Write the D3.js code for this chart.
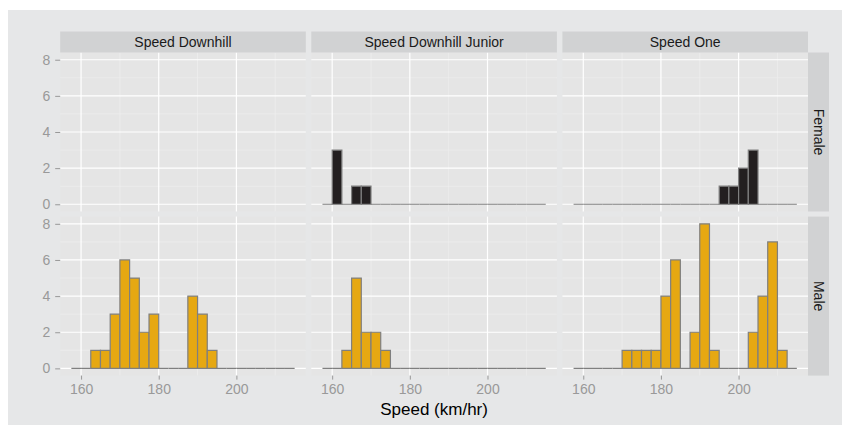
<!DOCTYPE html>
<html>
<head>
<meta charset="utf-8">
<script src="https://cdn.jsdelivr.net/npm/d3@7"></script>
<style>
  body { margin: 0; background: #fff; }
  text { font-family: "Liberation Sans", Arial, sans-serif; }
</style>
</head>
<body>
<div id="chart"></div>
<script>
// facets
var events = ["Speed Downhill", "Speed Downhill Junior", "Speed One"];
var genders = ["Female", "Male"];

// lower edge of each histogram bin (binwidth 2.5)
var binStarts = [157.5, 160, 162.5, 165, 167.5, 170, 172.5, 175, 177.5, 180,
  182.5, 185, 187.5, 190, 192.5, 195, 197.5, 200, 202.5, 205, 207.5, 210, 212.5];
var binWidth = 2.5;

// counts per bin, null = no data in that panel
var femaleDownhill = null;
var femaleJunior = [0, 3, 0, 1, 1, 0, 0, 0, 0, 0, 0, 0, 0, 0, 0, 0, 0, 0, 0, 0, 0, 0, 0];
var femaleOne = [0, 0, 0, 0, 0, 0, 0, 0, 0, 0, 0, 0, 0, 0, 0, 1, 1, 2, 3, 0, 0, 0, 0];
var maleDownhill = [0, 0, 1, 1, 3, 6, 5, 2, 3, 0, 0, 0, 4, 3, 1, 0, 0, 0, 0, 0, 0, 0, 0];
var maleJunior = [0, 0, 1, 5, 2, 2, 1, 0, 0, 0, 0, 0, 0, 0, 0, 0, 0, 0, 0, 0, 0, 0, 0];
var maleOne = [0, 0, 0, 0, 0, 1, 1, 1, 1, 4, 6, 0, 2, 8, 1, 0, 0, 0, 2, 4, 7, 1, 0];

var xTicks = [160, 180, 200];
var xMinor = [170, 190, 210];
var yTicks = [0, 2, 4, 6, 8];
var yMinor = [1, 3, 5, 7];

var counts = {
  Female: [femaleDownhill, femaleJunior, femaleOne],
  Male: [maleDownhill, maleJunior, maleOne]
};
var fills = { Female: "#231f20", Male: "#e6a812" };

var W = 842, H = 425;
var panelLeft = 60.2, panelW = 245.6, panelGap = 5.5;
var panelTop = [52.5, 216.6], panelH = 159;
var stripH = 21;

var svg = d3.select("#chart")
  .append("svg")
  .attr("width", W)
  .attr("height", H);

svg.append("rect")
  .attr("x", 8).attr("y", 10)
  .attr("width", W - 8).attr("height", H - 10)
  .attr("fill", "#e6e7e8");

var lo = binStarts[0], hi = binStarts[binStarts.length - 1] + binWidth;
var pad = (hi - lo) * 0.05;
var x = d3.scaleLinear()
  .domain([lo - pad, hi + pad])
  .range([0, panelW]);

var ymax = 8;
var y = d3.scaleLinear()
  .domain([-ymax * 0.05, ymax * 1.05])
  .range([panelH, 0]);

function barPath(d, i) {
  var x0 = x(binStarts[i]), x1 = x(binStarts[i] + binWidth);
  var y0 = y(0), y1 = y(d);
  return "M" + x0 + "," + y0 + "V" + y1 + "H" + x1 + "V" + y0 + "Z";
}

genders.forEach(function (g, r) {
  events.forEach(function (ev, c) {
    var px = panelLeft + c * (panelW + panelGap);
    var p = svg.append("g").attr("transform", "translate(" + px + "," + panelTop[r] + ")");

    p.append("rect")
      .attr("width", panelW).attr("height", panelH)
      .attr("fill", "#e5e5e5");

    // minor grid
    p.selectAll(".vmin").data(xMinor).enter().append("line")
      .attr("x1", x).attr("x2", x).attr("y1", 0).attr("y2", panelH)
      .attr("stroke", "#f0f0f0").attr("stroke-width", 0.6);
    p.selectAll(".hmin").data(yMinor).enter().append("line")
      .attr("y1", y).attr("y2", y).attr("x1", 0).attr("x2", panelW)
      .attr("stroke", "#f0f0f0").attr("stroke-width", 0.6);
    // major grid
    p.selectAll(".vmaj").data(xTicks).enter().append("line")
      .attr("x1", x).attr("x2", x).attr("y1", 0).attr("y2", panelH)
      .attr("stroke", "#fff").attr("stroke-width", 1.2);
    p.selectAll(".hmaj").data(yTicks).enter().append("line")
      .attr("y1", y).attr("y2", y).attr("x1", 0).attr("x2", panelW)
      .attr("stroke", "#fff").attr("stroke-width", 1.2);

    var vals = counts[g][c];
    if (vals) {
      p.selectAll(".bar").data(vals).enter().append("path")
        .attr("d", barPath)
        .attr("fill", fills[g])
        .attr("stroke", "#7f7f7f")
        .attr("stroke-width", 1.2);
    }

    // top strips
    if (r == 0) {
      svg.append("rect")
        .attr("x", px).attr("y", panelTop[0] - stripH)
        .attr("width", panelW).attr("height", stripH)
        .attr("fill", "#d1d2d3");
      svg.append("text")
        .attr("x", px + panelW / 2).attr("y", panelTop[0] - stripH / 2)
        .attr("dy", "0.35em")
        .attr("text-anchor", "middle")
        .attr("font-size", 14)
        .attr("fill", "#1a1a1a")
        .text(ev);
    }

    // x axis under bottom row
    if (r == 1) {
      var ax = svg.append("g")
        .attr("transform", "translate(" + px + "," + (panelTop[1] + panelH) + ")")
        .call(d3.axisBottom(x).tickValues(xTicks).tickSize(4).tickPadding(4));
      ax.select(".domain").remove();
      ax.selectAll("line").attr("stroke", "#999");
      ax.selectAll("text").attr("fill", "#999").attr("font-size", 14)
        .attr("font-family", "Liberation Sans, Arial, sans-serif");
    }
  });

  // y axis
  var ay = svg.append("g")
    .attr("transform", "translate(" + panelLeft + "," + panelTop[r] + ")")
    .call(d3.axisLeft(y).tickValues(yTicks).tickSize(5).tickPadding(5));
  ay.select(".domain").remove();
  ay.selectAll("line").attr("stroke", "#999");
  ay.selectAll("text").attr("fill", "#999").attr("font-size", 14)
    .attr("font-family", "Liberation Sans, Arial, sans-serif");

  // right strips
  var sx = panelLeft + 3 * panelW + 2 * panelGap;
  svg.append("rect")
    .attr("x", sx).attr("y", panelTop[r])
    .attr("width", stripH).attr("height", panelH)
    .attr("fill", "#d1d2d3");
  svg.append("text")
    .attr("transform", "translate(" + (sx + stripH / 2) + "," + (panelTop[r] + panelH / 2) + ") rotate(90)")
    .attr("dy", "0.35em")
    .attr("text-anchor", "middle")
    .attr("font-size", 14)
    .attr("fill", "#1a1a1a")
    .text(g);
});

svg.append("text")
  .attr("x", panelLeft + (3 * panelW + 2 * panelGap) / 2)
  .attr("y", 415)
  .attr("text-anchor", "middle")
  .attr("font-size", 17)
  .attr("fill", "#000")
  .text("Speed (km/hr)");
</script>
</body>
</html>
